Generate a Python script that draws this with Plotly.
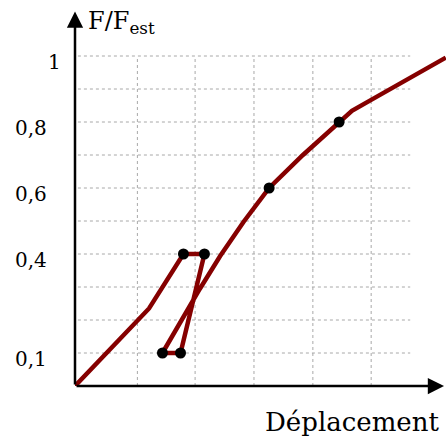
import plotly.graph_objects as go

# courbe F/Fest en fonction du deplacement
depl = [0, 1.27, 1.86, 2.22, 1.81, 1.50, 2.14, 2.49, 2.89, 3.33, 3.91, 4.53, 4.75, 5.08, 5.57, 6.36]
force = [0, 0.235, 0.40, 0.40, 0.10, 0.10, 0.294, 0.394, 0.497, 0.60, 0.70, 0.80, 0.834, 0.867, 0.917, 0.995]

# points marques
pts_x = [1.86, 2.22, 1.81, 1.50, 3.33, 4.53]
pts_y = [0.40, 0.40, 0.10, 0.10, 0.60, 0.80]

# quadrillage et graduations
grid_x = [1.07, 2.06, 3.07, 4.08, 5.08]
grid_y = [0.1, 0.2, 0.3, 0.4, 0.5, 0.6, 0.7, 0.8, 0.9, 1.0]
tick_vals = [1, 0.8, 0.6, 0.4, 0.1]
tick_text = ["1", "0,8", "0,6", "0,4", "0,1"]

police = "DejaVu Serif"
fig = go.Figure()

shapes = []
for gy in grid_y:
    shapes.append(dict(type="line", x0=0.05, x1=5.75, y0=gy, y1=gy, xref="x", yref="y",
                       line=dict(color="#a8a8a8", width=1, dash="dot"), layer="below"))
for gx in grid_x:
    shapes.append(dict(type="line", x0=gx, x1=gx, y0=0, y1=1, xref="x", yref="y",
                       line=dict(color="#a8a8a8", width=1, dash="dot"), layer="below"))

fig.add_trace(go.Scatter(x=depl, y=force, mode="lines",
                         line=dict(color="#850000", width=4.5), hoverinfo="skip"))
fig.add_trace(go.Scatter(x=pts_x, y=pts_y, mode="markers",
                         marker=dict(color="black", size=11), hoverinfo="skip"))

annotations = []
# axes avec fleches
annotations.append(dict(x=6.33, y=0, ax=0, ay=0, xref="x", yref="y", axref="x", ayref="y",
                        text="", showarrow=True, arrowhead=2, arrowsize=1.3, arrowwidth=2.5,
                        arrowcolor="black"))
annotations.append(dict(x=0, y=1.135, ax=0, ay=0, xref="x", yref="y", axref="x", ayref="y",
                        text="", showarrow=True, arrowhead=2, arrowsize=1.3, arrowwidth=2.5,
                        arrowcolor="black"))

for v, t in zip(tick_vals, tick_text):
    annotations.append(dict(x=0, y=v, xref="x", yref="y", text=t, showarrow=False,
                            xanchor="right", yanchor="middle",
                            xshift=-12 if t == "1" else -26, yshift=-6,
                            font=dict(family=police, size=20, color="black")))

annotations.append(dict(x=0.19, y=1.102, xref="x", yref="y", text="F/F<sub>est</sub>",
                        showarrow=False, xanchor="left", yanchor="middle",
                        font=dict(family=police, size=24, color="black")))
annotations.append(dict(x=3.22, y=0, xref="x", yref="y", text="Déplacement",
                        showarrow=False, xanchor="left", yanchor="middle", yshift=-36,
                        font=dict(family=police, size=26, color="black")))

fig.update_layout(
    width=446, height=436,
    margin=dict(l=75, r=0, t=0, b=50),
    plot_bgcolor="white", paper_bgcolor="white",
    showlegend=False,
    shapes=shapes, annotations=annotations,
    xaxis=dict(range=[0, 6.3636], showgrid=False, zeroline=False, showticklabels=False,
               showline=False, ticks=""),
    yaxis=dict(range=[0, 1.1697], showgrid=False, zeroline=False, showticklabels=False,
               showline=False, ticks=""),
)

fig.write_html("out.html", config={"displayModeBar": False},
               post_script="document.body.style.margin='0';")
